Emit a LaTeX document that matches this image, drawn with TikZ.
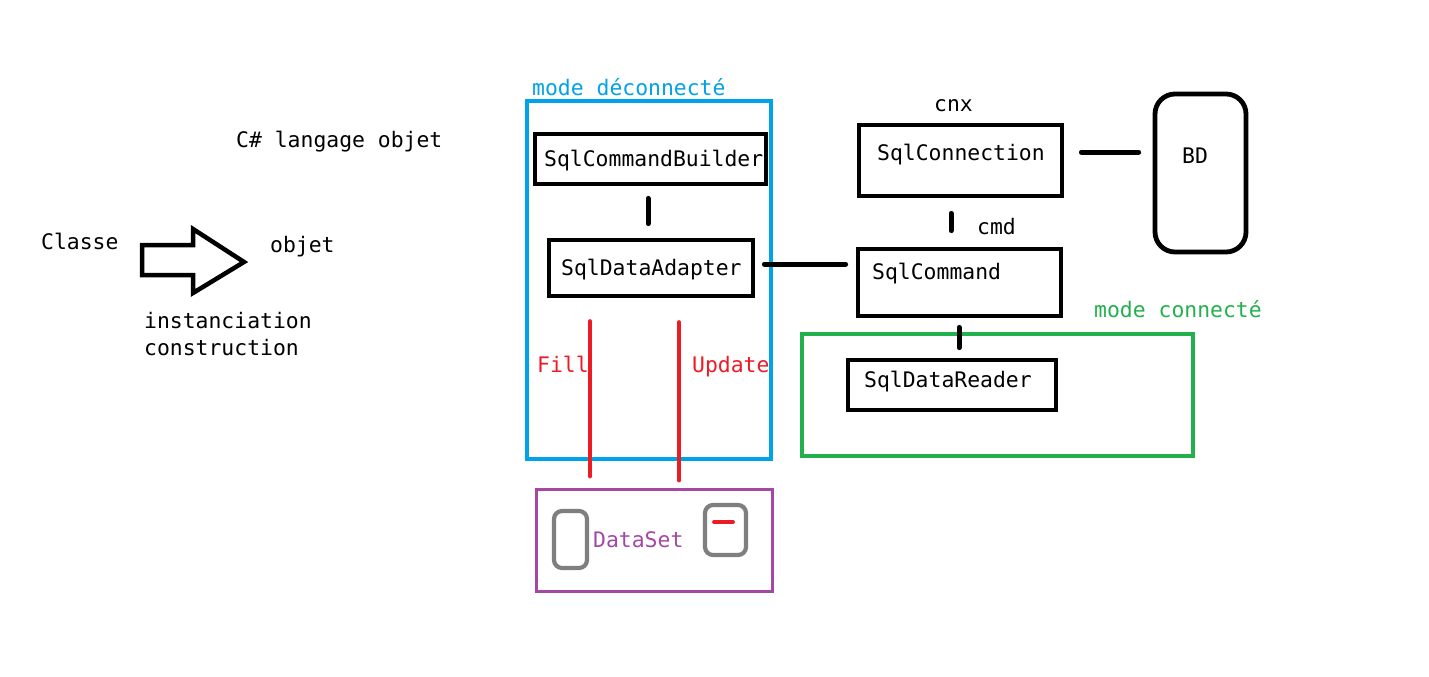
\documentclass[tikz,border=0pt]{standalone}
\usepackage{fontspec}
\setmonofont{DejaVu Sans Mono}
\definecolor{pblue}{HTML}{00A2E8}
\definecolor{pgreen}{HTML}{22B14C}
\definecolor{ppurple}{HTML}{A349A4}
\definecolor{pred}{HTML}{ED1C24}
\definecolor{pgray}{HTML}{7F7F7F}
\tikzset{
  box/.style={draw=black, line width=4.8pt, inner sep=0pt},
  zone/.style={draw, line width=4.2pt, inner sep=0pt},
  txt/.style={anchor=base west, inner sep=0pt, font=\ttfamily\fontsize{21.4}{26}\selectfont},
  conn/.style={draw=black, line width=5pt, line cap=round},
  redln/.style={draw=pred, line width=4.5pt, line cap=round},
}
\begin{document}
\begin{tikzpicture}[x=1pt, y=-1pt]
\useasboundingbox[fill=white] (0,0) rectangle (1429,677);

% left part
\node[txt] (title) at (236,147) {C\# langage objet};
\node[txt] (classe) at (41,249) {Classe};
\node[txt] (objet) at (270,252) {objet};
\node[txt] (inst) at (144,328) {instanciation};
\node[txt] (constr) at (144,355) {construction};
\draw[line width=4.5pt, line join=miter] (142,245) -- (193,245) -- (193,229) -- (244,262) -- (193,293) -- (193,275) -- (142,275) -- cycle;

% zones
\node[zone, draw=pblue, minimum width=244pt, minimum height=358pt] (deco) at (649,280) {};
\node[txt, text=pblue] (decolbl) at (532,95) {mode déconnecté};
\node[zone, draw=pgreen, minimum width=391pt, minimum height=122pt] (co) at (997.5,395) {};
\node[txt, text=pgreen] (colbl) at (1094,317) {mode connecté};
\node[zone, draw=ppurple, line width=3.6pt, minimum width=236pt, minimum height=102pt] (ds) at (654.5,540.5) {};

% boxes
\node[box, minimum width=231pt, minimum height=50pt] (scb) at (650.5,159) {};
\node[txt] at (544,166) {SqlCommandBuilder};
\node[box, minimum width=204pt, minimum height=56pt] (sda) at (651,268) {};
\node[txt] at (561,275) {SqlDataAdapter};
\node[box, minimum width=203pt, minimum height=71pt] (con) at (960.5,160.5) {};
\node[txt] at (877,160) {SqlConnection};
\node[box, minimum width=203pt, minimum height=67pt] (cmd) at (959.5,282.5) {};
\node[txt] at (872,279) {SqlCommand};
\node[box, minimum width=208pt, minimum height=50pt] (rdr) at (952,385) {};
\node[txt] at (864,387) {SqlDataReader};
\node[box, rounded corners=20pt, minimum width=91pt, minimum height=158pt] (bd) at (1200.5,173) {};
\node[txt] at (1182,163) {BD};
\node[txt] (cnx) at (934,111) {cnx};
\node[txt] (cmdlbl) at (977,234) {cmd};

% dataset content
\node[draw=pgray, line width=4.2pt, rounded corners=8pt, minimum width=33pt, minimum height=57pt, inner sep=0pt] (g1) at (570.5,539.5) {};
\node[draw=pgray, line width=4.2pt, rounded corners=8pt, minimum width=41pt, minimum height=50pt, inner sep=0pt] (g2) at (725.5,530) {};
\draw[redln, line width=3.8pt] ([xshift=-11.5pt,yshift=8pt]g2.center) -- ([xshift=7.5pt,yshift=8pt]g2.center);
\node[txt, text=ppurple] (dslbl) at (593,547) {DataSet};

% connectors
\draw[conn] ([xshift=-2.5pt,yshift=-12pt]scb.south) -- ([xshift=-3pt,yshift=14pt]sda.north);
\draw[conn] ([xshift=9pt,yshift=4pt]sda.east) -- ([xshift=-10pt,yshift=18.5pt]cmd.west);
\draw[conn] ([xshift=17pt,yshift=8.5pt]con.east) -- ([xshift=-14pt,yshift=21pt]bd.west);
\draw[conn] ([xshift=-9.5pt,yshift=-15pt]con.south) -- ([xshift=-8.5pt,yshift=16pt]cmd.north);
\draw[conn] ([xshift=-0.5pt,yshift=-9pt]cmd.south) -- ([xshift=7pt,yshift=10pt]rdr.north);

% Fill / Update
\draw[redln] ([xshift=-61pt,yshift=-23pt]sda.south) -- ([xshift=-64.5pt,yshift=11.5pt]ds.north);
\draw[redln] ([xshift=28pt,yshift=-24pt]sda.south) -- ([xshift=24.5pt,yshift=7.5pt]ds.north);
\node[txt, text=pred] (fill) at (537,372) {Fill};
\node[txt, text=pred] (upd) at (692,372) {Update};
\end{tikzpicture}
\end{document}
